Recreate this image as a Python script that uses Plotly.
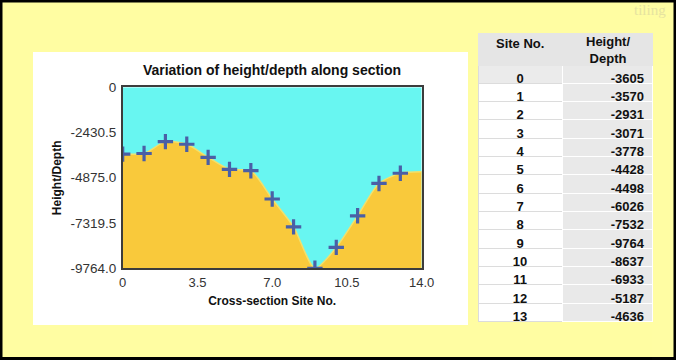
import plotly.graph_objects as go

# ---------------- data ----------------
site_no = [0, 1, 2, 3, 4, 5, 6, 7, 8, 9, 10, 11, 12, 13]
height_depth = [-3605, -3570, -2931, -3071, -3778, -4428, -4498,
                -6026, -7532, -9764, -8637, -6933, -5187, -4636]
# the drawn profile runs on to the end of the axis
section_end_site = 14
section_end_value = -4560

x_tick_vals = [0, 3.5, 7.0, 10.5, 14.0]
x_tick_text = ["0", "3.5", "7.0", "10.5", "14.0"]
y_tick_vals = [0, -2430.5, -4875.0, -7319.5, -9764.0]
y_tick_text = ["0", "-2430.5", "-4875.0", "-7319.5", "-9764.0"]
y_min, y_max = -9764.0, 0
x_min, x_max = 0, 14

table_header = ["Site No.", "Height/<br>Depth"]

# ---------------- styling ----------------
W, H = 676, 360
BG = "#fffda2"
CYAN = "#68f6f1"
ORANGE = "#f9c93b"
BLUE = "#4a5fa6"
FONT = "Liberation Sans"

def px_x(p):
    return p / W

def px_y(p):
    return 1 - p / H

fig = go.Figure()

# baseline at the bottom of the axis for the filled "ground"
fig.add_trace(go.Scatter(
    x=[x_min, x_max], y=[y_min, y_min], mode="lines",
    line=dict(width=0, color=ORANGE), showlegend=False, hoverinfo="skip"))

fig.add_trace(go.Scatter(
    x=site_no + [section_end_site], y=height_depth + [section_end_value],
    mode="lines", fill="tonexty", fillcolor=ORANGE,
    line=dict(color="#f2e06c", width=1.5, shape="spline", smoothing=0.7),
    showlegend=False, hoverinfo="skip"))

fig.add_trace(go.Scatter(
    x=site_no, y=height_depth, mode="markers",
    marker=dict(symbol="cross-thin-open", size=11,
                line=dict(width=3.2, color=BLUE), color=BLUE),
    showlegend=False, name="Height/Depth"))

# table (header text drawn as annotations to keep the compact header height)
col1_fill = ["#ebebeb"] + ["#ffffff"] * (len(site_no) - 1)
col2_fill = ["#e9e9e9"] * len(site_no)
fig.add_trace(go.Table(
    domain=dict(x=[px_x(478), px_x(652)], y=[0, px_y(33)]),
    columnwidth=[84, 90],
    header=dict(values=["", ""], height=32, fill_color="#e5e5e5",
                line_color="#e5e5e5"),
    cells=dict(values=[[str(s) for s in site_no], [str(v) for v in height_depth]],
               fill_color=[col1_fill, col2_fill],
               line_color=["#dcdcdc", "#ffffff"],
               align=["center", "right"], height=18.33,
               font=dict(family=FONT, size=13, color="#111111", weight="bold")),
))

hdr_font = dict(family=FONT, size=13, color="#111111", weight="bold")

fig.update_layout(
    width=W, height=H, autosize=False,
    margin=dict(l=0, r=0, t=0, b=0, pad=0, autoexpand=False),
    paper_bgcolor="#000000", plot_bgcolor=CYAN,
    showlegend=False,
    title=dict(text="Variation of height/depth along section", automargin=False,
               x=px_x(272), xanchor="center", y=px_y(70), yanchor="middle",
               font=dict(family=FONT, size=14, color="#111111", weight="bold")),
    xaxis=dict(domain=[px_x(122.7), px_x(421.7)], range=[x_min, x_max],
               automargin=False,
               tickvals=x_tick_vals, ticktext=x_tick_text,
               showgrid=False, zeroline=False, showline=True, mirror=True,
               linecolor="#3c3c3c", linewidth=1.5, ticks="", ticklabelstandoff=1,
               tickfont=dict(family=FONT, size=13, color="#333333"),
               title=dict(text="Cross-section Site No.", standoff=8,
                          font=dict(family=FONT, size=12, color="#111111", weight="bold"))),
    yaxis=dict(domain=[px_y(268.3), px_y(87.3)], range=[y_min, y_max],
               automargin=False,
               tickvals=y_tick_vals, ticktext=y_tick_text,
               showgrid=False, zeroline=False, showline=True, mirror=True,
               linecolor="#3c3c3c", linewidth=1.5, ticks="", ticklabelstandoff=2,
               tickfont=dict(family=FONT, size=13.5, color="#333333"),
               title=dict(text="Height/Depth", standoff=6,
                          font=dict(family=FONT, size=12, color="#111111", weight="bold"))),
    shapes=[
        # yellow page inside the black frame
        dict(type="rect", xref="paper", yref="paper", layer="below",
             x0=px_x(2.5), x1=px_x(673.5), y0=px_y(357), y1=px_y(2.5),
             fillcolor=BG, line=dict(width=0)),
        dict(type="rect", xref="paper", yref="paper", layer="below",
             x0=px_x(33), x1=px_x(468), y0=px_y(325), y1=px_y(52),
             fillcolor="#ffffff", line=dict(width=0)),
        dict(type="rect", xref="x", yref="y", layer="below",
             x0=x_min, x1=x_max, y0=y_min, y1=y_max,
             fillcolor=CYAN, line=dict(width=0)),
    ],
    annotations=[
        dict(text=table_header[0], xref="paper", yref="paper",
             x=px_x(520), y=px_y(43), xanchor="center", yanchor="middle",
             showarrow=False, font=hdr_font),
        dict(text=table_header[1], xref="paper", yref="paper",
             x=px_x(608), y=px_y(50.5), xanchor="center", yanchor="middle",
             align="center", showarrow=False, font=hdr_font),
        dict(text="tiling", xref="paper", yref="paper", x=px_x(668), y=px_y(10),
             xanchor="right", yanchor="middle", showarrow=False,
             font=dict(family="Liberation Serif", size=15, color="#e6e3a0")),
    ],
)

fig.write_html(
    "out.html",
    config={"displayModeBar": False},
    post_script=("document.body.style.margin='0';"
                 "document.body.style.overflow='hidden';"
                 "document.documentElement.style.overflow='hidden';"),
)
